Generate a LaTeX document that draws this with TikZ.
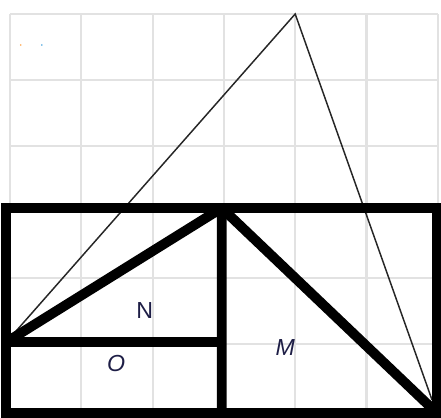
\documentclass[tikz,border=0pt]{standalone}
\usepackage{fontspec}
\setsansfont{Liberation Sans}
\usetikzlibrary{calc}
\definecolor{gridgray}{RGB}{226,226,226}
\definecolor{labelink}{RGB}{30,30,70}

\begin{document}
\begin{tikzpicture}[x=1.7825cm,y=1.65cm,line join=miter,
    gridline/.style={gridgray,line width=1.5pt},
    thinline/.style={black!85,line width=1.05pt},
    heavy/.style={black,line width=7pt},
    lbl/.style={labelink,font=\fontsize{16.5}{19}\selectfont\sffamily,inner sep=0pt}]
  \useasboundingbox (-0.14,-0.121) rectangle (6.045,6.212);
  % square grid
  \foreach \i in {0,...,6}{
    \draw[gridline] (\i,0)--(\i,6);
    \draw[gridline] (0,\i)--(6,\i);
  }
  % the two tiny specks
  \fill[orange!70] (0.15,5.53) circle (0.6pt);
  \fill[cyan!70!blue] (0.447,5.53) circle (0.6pt);

  % corner points
  \coordinate (A) at (-0.05,1.03);
  \coordinate (T) at (4,6);
  \coordinate (E) at (5.92,0.15);
  \coordinate (P) at (2.97,3.06);
  \coordinate (Q) at (2.97,1.03);
  \coordinate (R) at (2.97,-0.05);
  \coordinate (BR) at (5.99,-0.05);

  % large thin triangle
  \draw[thinline] (A)--(T)--(E);

  % bold frame and inner lines
  \draw[heavy] (-0.05,-0.05) rectangle (5.99,3.06);
  \draw[heavy,line join=bevel] (A)--(P)--(R);
  \draw[heavy] (A)--(Q);
  \draw[heavy,line cap=round] (P)--(BR);

  \node[lbl] (labN) at (1.89,1.5) {N};
  \node[lbl,font=\fontsize{16.5}{19}\selectfont\sffamily\itshape] (labO) at (1.49,0.7) {O};
  \node[lbl,font=\fontsize{16.5}{19}\selectfont\sffamily\itshape] (labM) at (3.86,0.94) {M};
\end{tikzpicture}
\end{document}
